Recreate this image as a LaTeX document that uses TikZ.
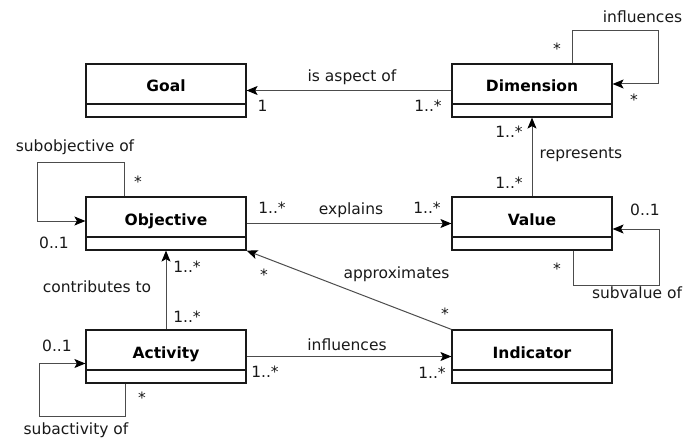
\documentclass[tikz,border=0pt]{standalone}
\usepackage{fontspec}
\setmainfont{DejaVu Sans}
\usetikzlibrary{arrows.meta}
\begin{document}
\begin{tikzpicture}[x=1pt,y=-1pt,
  every node/.style={font=\fontsize{15.5}{18}\selectfont, inner sep=0pt, text=black!90},
  classbox/.style={draw=black!90, line width=1.2pt, minimum width=160pt, minimum height=53pt, inner sep=0pt},
  classname/.style={font=\fontsize{15.5}{18}\selectfont\bfseries, anchor=base, text=black},
  divider/.style={draw=black!90, line width=1.4pt},
  assoc/.style={draw=black!70, line width=1pt, -{Stealth[length=11pt,width=9pt,inset=2.5pt,color=black]}},
]
\useasboundingbox (0,0) rectangle (699,441);

% ---- classes ----
\node[classbox] (goal) at (166,90.5) {};
\node[classbox] (dim)  at (532,90.5) {};
\node[classbox] (obj)  at (166,223.5) {};
\node[classbox] (val)  at (532,223.5) {};
\node[classbox] (act)  at (166,356.5) {};
\node[classbox] (ind)  at (532,356.5) {};

\node[classname] (goalname) at (166,92) {Goal};
\node[classname] (dimname)  at (532,92) {Dimension};
\node[classname] (objname)  at (166,225) {Objective};
\node[classname] (valname)  at (532,225) {Value};
\node[classname] (actname)  at (166,358) {Activity};
\node[classname] (indname)  at (532,358) {Indicator};

\foreach \c in {goal,dim,obj,val,act,ind}
  \draw[divider] ([yshift=-13.5pt]\c.west) -- ([yshift=-13.5pt]\c.east);

% ---- associations ----
\draw[assoc] (dim.west) -- (goal.east);
\draw[assoc] ([xshift=40pt]dim.north) |- (658,31) |- ([yshift=6.5pt]dim.east);
\draw[assoc] (val.north) -- (dim.south);
\draw[assoc] (obj.east) -- (val.west);
\draw[assoc] ([xshift=-42pt]obj.north) |- (37,163) |- ([yshift=2.5pt]obj.west);
\draw[assoc] ([xshift=41pt]val.south) |- (659,285) |- ([yshift=-5.5pt]val.east);
\draw[assoc] (ind.north west) -- (obj.south east);
\draw[assoc] (act.north) -- (obj.south);
\draw[assoc] (act.east) -- (ind.west);
\draw[assoc] ([xshift=-41pt]act.south) |- (39,416) |- ([yshift=-7pt]act.west);

% ---- association names ----
\node at (352,77) {is aspect of};
\node at (642.5,17) {influences};
\node at (581,155) {represents};
\node at (351,210) {explains};
\node at (75,147) {subobjective of};
\node at (637,293) {subvalue of};
\node at (396.5,274) {approximates};
\node at (97,287) {contributes to};
\node at (347,345) {influences};
\node at (76,430) {subactivity of};

% ---- multiplicities ----
\node at (262.5,106) {1};
\node at (428,106) {1..*};
\node at (557,49) {*};
\node at (634,100) {*};
\node at (509,132) {1..*};
\node at (509,183) {1..*};
\node at (272,208) {1..*};
\node at (427,208) {1..*};
\node at (138,182) {*};
\node at (54,243) {0..1};
\node at (557,269) {*};
\node at (645,210) {0..1};
\node at (264,275) {*};
\node at (445,314) {*};
\node at (187,267) {1..*};
\node at (187,317) {1..*};
\node at (57,346) {0..1};
\node at (265,372) {1..*};
\node at (432,373) {1..*};
\node at (142,398) {*};
\end{tikzpicture}
\end{document}
